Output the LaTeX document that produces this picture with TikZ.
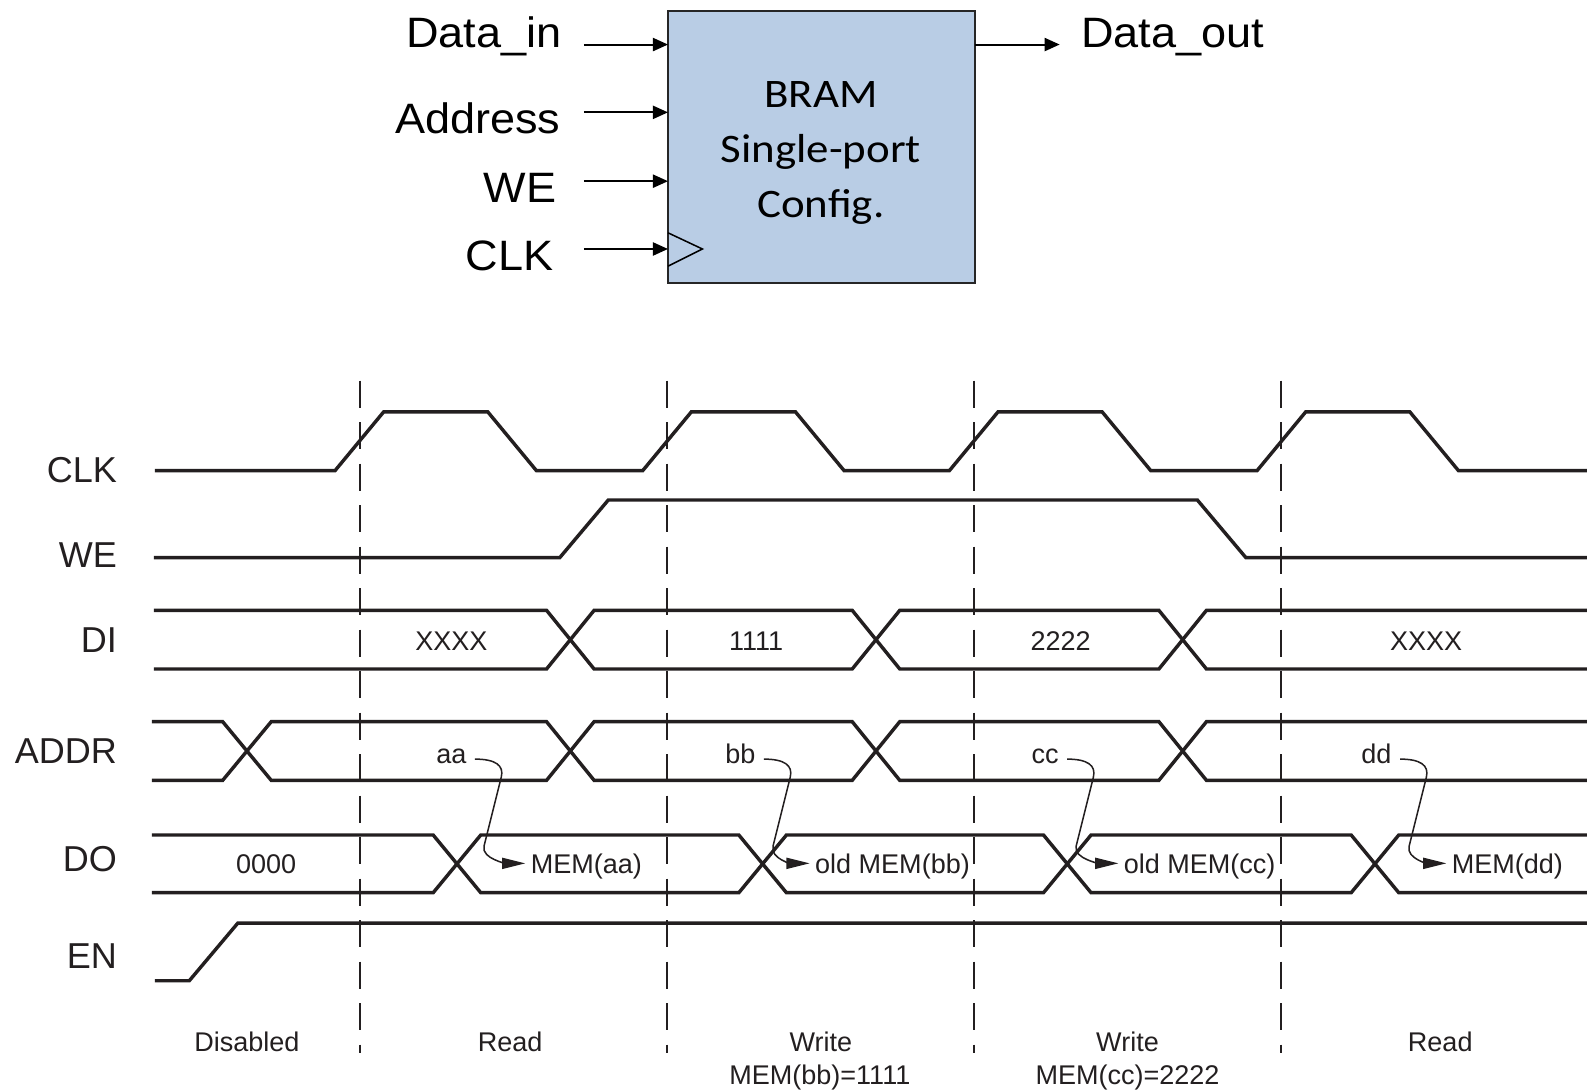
\documentclass[tikz,border=0pt]{standalone}
\usepackage{fontspec}
\setmainfont{Liberation Sans}
\newfontfamily\pinfont[FakeStretch=1.06]{Liberation Sans}
\newfontfamily\calfont[FakeStretch=1.11]{Carlito}
\usetikzlibrary{arrows.meta}
\definecolor{ink}{RGB}{35,31,32}
\definecolor{bramfill}{RGB}{185,205,229}

\begin{document}
\begin{tikzpicture}[x=0.5pt, y=-0.5pt,
  wave/.style={line width=1.7pt, draw=ink, line join=miter},
  divider/.style={line width=1pt, draw=ink, dash pattern=on 13.5pt off 7pt},
  bramblock/.style={draw=black!85, fill=bramfill, line width=1pt, minimum width=151.5pt, minimum height=134.5pt, inner sep=0pt},
  pinarrow/.style={line width=1pt, -{Triangle[length=7.5pt,width=6.5pt]}},
  pinlabel/.style={font=\pinfont\fontsize{21pt}{24pt}\selectfont, inner sep=0pt},
  sigtag/.style={font=\fontsize{17.8pt}{20pt}\selectfont, text=ink, inner sep=0pt, anchor=base east},
  smalltag/.style={font=\fontsize{13.35pt}{16pt}\selectfont, text=ink, inner sep=0pt, anchor=base},
  flow/.style={line width=0.75pt, draw=ink, -{Triangle[length=11.5pt,width=5.5pt]}}]

\useasboundingbox (0,0) rectangle (1568,1078);

% memory block
\node[bramblock] (bram) at (811.5,145.5) {};
\node[font=\calfont\fontsize{20pt}{27pt}\selectfont, align=center, inner sep=0pt] (bramtxt) at (811,151) {BRAM\\Single-port\\Config.};
\draw[line width=0.75pt] (660,230) -- (694,246) -- (660,263);

\node[pinlabel, anchor=base east] (din) at (555,47) {Data\_in};
\node[pinlabel, anchor=base east] (addr) at (554,132) {Address};
\node[pinlabel, anchor=base east] (we) at (550,200) {WE};
\node[pinlabel, anchor=base east] (clk) at (547,267) {CLK};
\node[pinlabel, anchor=base west] (dout) at (1068,47) {Data\_out};

\coordinate (pinx) at (577,0);
\coordinate (pdin) at (660,44);
\coordinate (paddr) at (660,111);
\coordinate (pwe) at (660,179);
\coordinate (pclk) at (660,246);
\coordinate (pdout) at (963,44);
\foreach \p in {pdin,paddr,pwe,pclk}
  \draw[pinarrow] (pinx |- \p) -- (\p);
\draw[pinarrow, shorten >=10.5pt] (pdout) -- (dout.west |- pdout);

% timing diagram
\node[sigtag] (tclk) at (116,477) {CLK};
\node[sigtag] (twe) at (116,561) {WE};
\node[sigtag] (tdi) at (116,645) {DI};
\node[sigtag] (taddr) at (116,754) {ADDR};
\node[sigtag] (tdo) at (116,861) {DO};
\node[sigtag] (ten) at (116,957) {EN};

\foreach \x in {356,659,962,1266}
  \draw[divider] (\x,376) -- (\x,1040);

\draw[wave] (153,465) foreach \x in {331,635,938,1242} { -- (\x,465) -- (\x+48,407) -- (\x+151,407) -- (\x+199,465) } -- (1568,465);
\draw[wave] (152,551) -- (553,551) -- (601,494) -- (1183,494) -- (1231,551) -- (1568,551);
% DI
\draw[wave] (152,603) -- (540,603) -- (587,661) -- (842,661) -- (889,603) -- (1145,603) -- (1192,661) -- (1568,661);
\draw[wave] (152,661) -- (540,661) -- (587,603) -- (842,603) -- (889,661) -- (1145,661) -- (1192,603) -- (1568,603);
% ADDR
\draw[wave] (150,713) -- (220,713) -- (268,771) -- (540,771) -- (587,713) -- (842,713) -- (889,771) -- (1145,771) -- (1192,713) -- (1568,713);
\draw[wave] (150,771) -- (220,771) -- (268,713) -- (540,713) -- (587,771) -- (842,771) -- (889,713) -- (1145,713) -- (1192,771) -- (1568,771);
% DO
\draw[wave] (150,825) -- (428,825) -- (475,882) -- (730,882) -- (777,825) -- (1031,825) -- (1078,882) -- (1335,882) -- (1382,825) -- (1568,825);
\draw[wave] (150,882) -- (428,882) -- (475,825) -- (730,825) -- (777,882) -- (1031,882) -- (1078,825) -- (1335,825) -- (1382,882) -- (1568,882);
% EN
\draw[wave] (153,969) -- (187,969) -- (235,912) -- (1568,912);

\node[smalltag] (di1) at (446,643) {XXXX};
\node[smalltag] (di2) at (747,643) {1111};
\node[smalltag] (di3) at (1048,643) {2222};
\node[smalltag] (di4) at (1409,643) {XXXX};

\node[smalltag] (ad1) at (446,754) {aa};
\node[smalltag] (ad2) at (731.5,754) {bb};
\node[smalltag] (ad3) at (1032.5,754) {cc};
\node[smalltag] (ad4) at (1360,754) {dd};

\node[smalltag] (do0) at (263,863) {0000};
\node[smalltag, anchor=base west] (do1) at (524,863) {MEM(aa)};
\node[smalltag, anchor=base west] (do2) at (805,863) {old MEM(bb)};
\node[smalltag, anchor=base west] (do3) at (1110,863) {old MEM(cc)};
\node[smalltag, anchor=base west] (do4) at (1434,863) {MEM(dd)};

\foreach \a/\m in {ad1/do1, ad2/do2, ad3/do3, ad4/do4}
  \draw[flow] ([shift={(8,-4)}]\a.base east) .. controls +(20,0) and +(3,-12) .. ++(26,18) -- ++(-17,68) .. controls +(-3,13) and +(-16,0) .. ([shift={(-5,-10)}]\m.base west);

\node[smalltag] (ph1) at (244,1039) {Disabled};
\node[smalltag] (ph2) at (504,1039) {Read};
\node[smalltag] (ph3) at (811,1039) {Write};
\node[smalltag] (ph3b) at (810,1071) {MEM(bb)=1111};
\node[smalltag] (ph4) at (1114,1039) {Write};
\node[smalltag] (ph4b) at (1114,1071) {MEM(cc)=2222};
\node[smalltag] (ph5) at (1423,1039) {Read};
\end{tikzpicture}
\end{document}
